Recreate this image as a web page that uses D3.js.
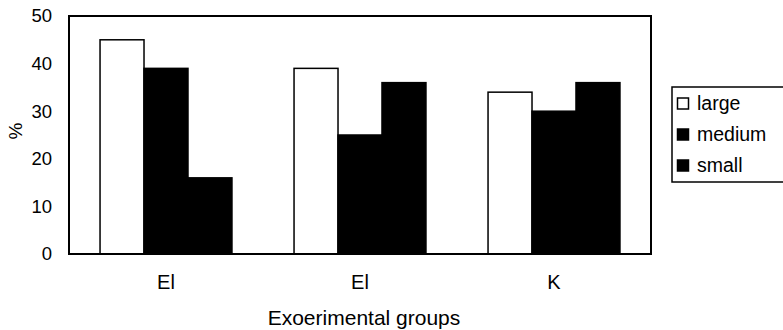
<!DOCTYPE html>
<html>
<head>
<meta charset="utf-8">
<script src="https://cdn.jsdelivr.net/npm/d3@7"></script>
<style>
  html, body { margin: 0; padding: 0; background: #fff; }
  svg { display: block; font-family: "Liberation Sans", Arial, sans-serif; }
</style>
</head>
<body>
<svg id="chart" width="783" height="330"></svg>
<script>
// Share of large / medium / small units per experimental group (%)
const groups = ["El", "El ", "K"];
const seriesNames = ["large", "medium", "small"];
const large = [45, 39, 34];
const medium = [39, 25, 30];
const small = [16, 36, 36];
const yTicks = [0, 10, 20, 30, 40, 50];
const xTitle = "Exoerimental groups";
const yTitle = "%";

const seriesValues = [large, medium, small];
const fills = ["#ffffff", "#000000", "#000000"];

const svg = d3.select("#chart");
const m = { left: 69, right: 132, top: 16, bottom: 76 };
const W = 783, H = 330;
const x0 = m.left, x1 = W - m.right, yTop = m.top, yBot = H - m.bottom;

const x = d3.scaleBand().domain(groups).range([x0, x1])
  .paddingInner(0.32).paddingOuter(0.16);
const xs = d3.scaleBand().domain(seriesNames).range([0, x.bandwidth()]);
const y = d3.scaleLinear().domain([0, 50]).range([yBot, yTop]);

// bars
groups.forEach((g, gi) => {
  seriesNames.forEach((s, si) => {
    const v = seriesValues[si][gi];
    svg.append("rect")
      .attr("x", x(g) + xs(s))
      .attr("y", y(v))
      .attr("width", xs.bandwidth())
      .attr("height", y(0) - y(v))
      .attr("fill", fills[si])
      .attr("stroke", "#000")
      .attr("stroke-width", 1.5);
  });
});

// plot frame
svg.append("rect")
  .attr("x", x0).attr("y", yTop)
  .attr("width", x1 - x0).attr("height", yBot - yTop)
  .attr("fill", "none").attr("stroke", "#000").attr("stroke-width", 2);

// y axis labels
const yAxis = d3.axisLeft(y).tickValues(yTicks).tickSize(0).tickPadding(17);
const ya = svg.append("g").attr("transform", `translate(${x0},0)`).call(yAxis);
ya.select(".domain").remove();
ya.selectAll("text").attr("font-size", 18.5).attr("fill", "#000")
  .attr("font-family", "Liberation Sans, Arial, sans-serif");

// x axis labels
const xAxis = d3.axisBottom(x).tickSize(0).tickPadding(21).tickFormat(d => d.trim());
const xa = svg.append("g").attr("transform", `translate(0,${yBot})`).call(xAxis);
xa.select(".domain").remove();
xa.selectAll("text").attr("font-size", 20).attr("fill", "#000")
  .attr("font-family", "Liberation Sans, Arial, sans-serif");

// axis titles
svg.append("text")
  .attr("x", (x0 + x1) / 2 + 4).attr("y", 325)
  .attr("text-anchor", "middle").attr("font-size", 21)
  .text(xTitle);
svg.append("text")
  .attr("transform", `translate(22,${(yTop + yBot) / 2 - 4}) rotate(-90)`)
  .attr("text-anchor", "middle").attr("font-size", 19)
  .text(yTitle);

// legend
const lg = svg.append("g").attr("transform", "translate(672,87)");
lg.append("rect").attr("width", 112).attr("height", 95)
  .attr("fill", "#fff").attr("stroke", "#000").attr("stroke-width", 1.5);
seriesNames.forEach((s, i) => {
  const cy = 16 + i * 31;
  lg.append("rect").attr("x", 5.5).attr("y", cy - 5).attr("width", 11).attr("height", 11)
    .attr("fill", fills[i]).attr("stroke", "#000").attr("stroke-width", 1.5);
  lg.append("text").attr("x", 25).attr("y", cy + 6.5)
    .attr("font-size", 19.5).text(s);
});
</script>
</body>
</html>
